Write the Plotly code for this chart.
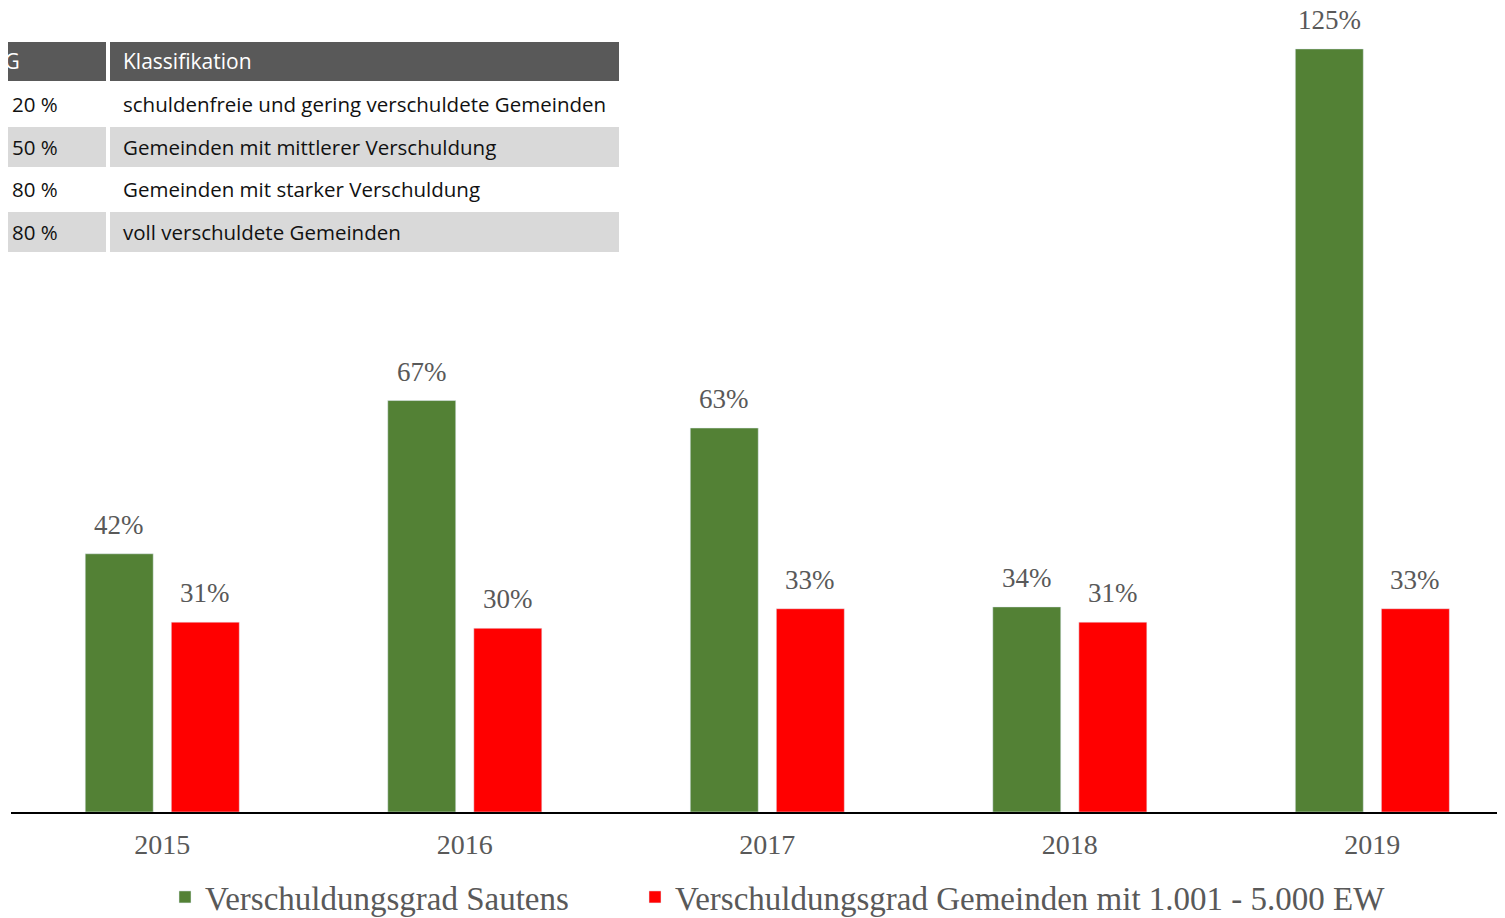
import plotly.graph_objects as go

years = ["2015", "2016", "2017", "2018", "2019"]
sautens = [42.3, 67.4, 62.9, 33.6, 125.0]
gemeinden = [31.1, 30.1, 33.3, 31.1, 33.3]
series_names = ["Verschuldungsgrad Sautens", "Verschuldungsgrad Gemeinden mit 1.001 - 5.000 EW"]

table_header = ["VG", "Klassifikation"]
table_vg = ["< 20 %", "< 50 %", "< 80 %", "> 80 %"]
table_klass = [
    "schuldenfreie und gering verschuldete Gemeinden",
    "Gemeinden mit mittlerer Verschuldung",
    "Gemeinden mit starker Verschuldung",
    "voll verschuldete Gemeinden",
]

W, H = 1505, 918
OFF = 8  # page body margin
ML, MR, MT, MB = 3, 0, 0, 114
PW = W - ML - MR
PH = H - MT - MB

def px(x):  # page pixel -> paper x
    return (x - OFF - ML) / PW

def py(y):  # page pixel -> paper y
    return (H - MB - (y - OFF)) / PH

SERIF = "Liberation Serif"
GRAY = "#595959"
GREEN = "#538135"
RED = "#ff0000"

fig = go.Figure()
fig.add_bar(x=years, y=sautens, name=series_names[0], marker_color=GREEN, legend="legend")
fig.add_bar(x=years, y=gemeinden, name=series_names[1], marker_color=RED, legend="legend2")

annotations = []
# value labels above bars (x given as category index)
for vals, shift in [(sautens, -43), (gemeinden, 43)]:
    for i, v in enumerate(vals):
        annotations.append(dict(x=i, y=v, xref="x", yref="y", text=f"{v:.0f}%", showarrow=False,
                                xshift=shift, yshift=29, xanchor="center", yanchor="middle",
                                font=dict(family=SERIF, size=27, color=GRAY)))

# table overlay
shapes = []
for a, b in [(-20, 106), (110, 619)]:
    shapes.append(dict(type="rect", xref="paper", yref="paper", x0=px(a), x1=px(b), y0=py(81), y1=py(42),
                       fillcolor="#595959", line_width=0, layer="above"))
annotations.append(dict(x=px(22), y=py(61), xref="paper", yref="paper", text=table_header[0], showarrow=False,
                        xanchor="right", yanchor="middle", font=dict(family="Open Sans", size=21, color="white")))
annotations.append(dict(x=px(121), y=py(61), xref="paper", yref="paper", text=table_header[1], showarrow=False,
                        xanchor="left", yanchor="middle", font=dict(family="Open Sans", size=21, color="white")))
row_tops = [84, 127, 169, 212]
row_h = 40
for i, (vg, kl) in enumerate(zip(table_vg, table_klass)):
    top = row_tops[i]
    if i % 2 == 1:
        for a, b in [(-20, 106), (110, 619)]:
            shapes.append(dict(type="rect", xref="paper", yref="paper", x0=px(a), x1=px(b),
                               y0=py(top + row_h), y1=py(top), fillcolor="#d9d9d9", line_width=0, layer="above"))
    cy = top + row_h / 2
    annotations.append(dict(x=px(60), y=py(cy), xref="paper", yref="paper", text=vg, showarrow=False,
                            xanchor="right", yanchor="middle", font=dict(family="Open Sans", size=20.5, color="#111111")))
    annotations.append(dict(x=px(121), y=py(cy), xref="paper", yref="paper", text=kl, showarrow=False,
                            xanchor="left", yanchor="middle", font=dict(family="Open Sans", size=20.5, color="#111111")))

legend_common = dict(orientation="h", xanchor="left", yanchor="middle", itemwidth=30,
                     font=dict(family=SERIF, size=33, color=GRAY), bgcolor="rgba(0,0,0,0)")

fig.update_layout(
    width=W, height=H,
    margin=dict(l=ML, r=MR, t=MT, b=MB, autoexpand=False),
    plot_bgcolor="white", paper_bgcolor="white",
    barmode="group", bargap=0.431, bargroupgap=0.21,
    showlegend=True,
    legend=dict(x=px(165), y=py(897), **legend_common),
    legend2=dict(x=px(635), y=py(897), **legend_common),
    shapes=shapes, annotations=annotations,
    xaxis=dict(range=[-0.5, 4.465], showline=True, linecolor="black", linewidth=1.5,
               tickfont=dict(family=SERIF, size=28, color=GRAY), ticklabelstandoff=7,
               showgrid=False, zeroline=False, automargin=False),
    yaxis=dict(range=[0, 131.7], visible=False, showgrid=False, automargin=False),
)

fig.write_html("out.html")
